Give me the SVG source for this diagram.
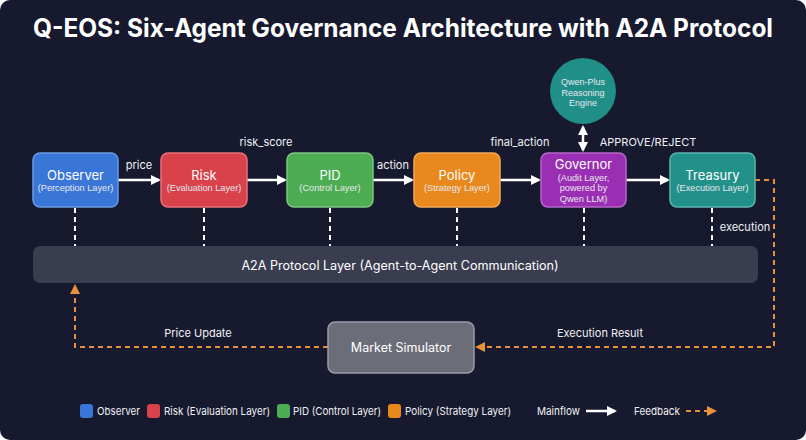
<svg xmlns="http://www.w3.org/2000/svg" width="806" height="440" viewBox="0 0 806 440">
<defs>
<style>
text{font-family:"Inter","Liberation Sans",Arial,sans-serif;fill:#ffffff}
.t{font-size:13px;text-anchor:middle}
.s{font-family:"Liberation Sans",Arial,sans-serif;font-size:9.2px;text-anchor:middle;fill:#e8e8ee}
.lbl{font-size:11px;text-anchor:middle;fill:#f0f0f4}
.leg{font-size:11px;fill:#f0f0f4}
.node{stroke-width:1.5}
.main{stroke:#ffffff;stroke-width:2.5;fill:none}
.dash{stroke:#ffffff;stroke-width:2;stroke-dasharray:5 4;fill:none}
.fb{stroke:#e8913a;stroke-width:2;stroke-dasharray:5 4;fill:none}
</style>
<marker id="aw" markerWidth="10" markerHeight="10" refX="8" refY="5" orient="auto" markerUnits="userSpaceOnUse">
<path d="M0,0 L10,5 L0,10 Z" fill="#ffffff"/>
</marker>
<marker id="aw2" markerWidth="10" markerHeight="10" refX="8" refY="5" orient="auto-start-reverse" markerUnits="userSpaceOnUse">
<path d="M0,0 L10,5 L0,10 Z" fill="#ffffff"/>
</marker>
<marker id="ao" markerWidth="10" markerHeight="10" refX="8" refY="5" orient="auto" markerUnits="userSpaceOnUse">
<path d="M0,0 L10,5 L0,10 Z" fill="#e8913a"/>
</marker>
</defs>
<rect x="0" y="0" width="806" height="440" fill="#ffffff"/>
<rect x="0" y="0" width="806" height="440" rx="10" fill="#171a2e"/>
<text x="403" y="37" text-anchor="middle" font-size="25" font-weight="bold" textLength="740" lengthAdjust="spacingAndGlyphs">Q-EOS: Six-Agent Governance Architecture with A2A Protocol</text>

<g id="connectors">
<line class="main" x1="118" y1="180" x2="159" y2="180" marker-end="url(#aw)"/>
<line class="main" x1="247" y1="180" x2="285" y2="180" marker-end="url(#aw)"/>
<line class="main" x1="373" y1="180" x2="412" y2="180" marker-end="url(#aw)"/>
<line class="main" x1="500" y1="180" x2="539" y2="180" marker-end="url(#aw)"/>
<line class="main" x1="626" y1="180" x2="668" y2="180" marker-end="url(#aw)"/>
<line class="main" x1="583" y1="127" x2="583" y2="150" marker-start="url(#aw2)" marker-end="url(#aw)"/>
<line class="dash" x1="75" y1="208" x2="75" y2="246"/>
<line class="dash" x1="204" y1="208" x2="204" y2="246"/>
<line class="dash" x1="330" y1="208" x2="330" y2="246"/>
<line class="dash" x1="457" y1="208" x2="457" y2="246"/>
<line class="dash" x1="584" y1="208" x2="584" y2="246"/>
<line class="dash" x1="712" y1="208" x2="712" y2="246"/>
<polyline class="fb" points="755,180 774,180 774,347 477,347" marker-end="url(#ao)"/>
<polyline class="fb" points="328,347 75,347 75,286" marker-end="url(#ao)"/>
<text class="lbl" x="139" y="169">price</text>
<text class="lbl" x="266" y="146">risk_score</text>
<text class="lbl" x="393" y="169">action</text>
<text class="lbl" x="520" y="146">final_action</text>
<text class="lbl" x="648" y="146">APPROVE/REJECT</text>
<text class="lbl" x="745" y="231">execution</text>
<text class="lbl" x="600" y="337">Execution Result</text>
<text class="lbl" x="198" y="337">Price Update</text>
</g>

<g id="protocol">
<rect x="33" y="246" width="725" height="37" rx="7" fill="#3a3d4f"/>
<text x="400" y="269.5" text-anchor="middle" font-size="12.6">A2A Protocol Layer (Agent-to-Agent Communication)</text>
</g>

<g id="observer">
<rect class="node" x="33" y="153" width="85" height="54" rx="7" fill="#3a76d8" stroke="#6a9ae6"/>
<text class="t" x="75.5" y="179.5">Observer</text>
<text class="s" x="75.5" y="191">(Perception Layer)</text>
</g>
<g id="risk">
<rect class="node" x="161" y="153" width="86" height="54" rx="7" fill="#d9424b" stroke="#e87279"/>
<text class="t" x="204" y="179.5">Risk</text>
<text class="s" x="204" y="191">(Evaluation Layer)</text>
</g>
<g id="pid">
<rect class="node" x="287" y="153" width="86" height="54" rx="7" fill="#4cad52" stroke="#7cc680"/>
<text class="t" x="330" y="179.5">PID</text>
<text class="s" x="330" y="191">(Control Layer)</text>
</g>
<g id="policy">
<rect class="node" x="414" y="153" width="86" height="54" rx="7" fill="#e9891d" stroke="#f2ab5b"/>
<text class="t" x="457" y="179.5">Policy</text>
<text class="s" x="457" y="191">(Strategy Layer)</text>
</g>
<g id="governor">
<rect class="node" x="541" y="153" width="85" height="54" rx="7" fill="#9a2fb4" stroke="#b866cc"/>
<text class="t" x="583.5" y="168.5">Governor</text>
<text class="s" x="583.5" y="180.5">(Audit Layer,</text>
<text class="s" x="583.5" y="191">powered by</text>
<text class="s" x="583.5" y="201.5">Qwen LLM)</text>
</g>
<g id="treasury">
<rect class="node" x="670" y="153" width="85" height="54" rx="7" fill="#22918a" stroke="#5cb5ae"/>
<text class="t" x="712.5" y="179.5">Treasury</text>
<text class="s" x="712.5" y="191">(Execution Layer)</text>
</g>
<g id="qwen">
<circle cx="583" cy="91" r="33" fill="#1f8f87"/>
<text class="s" style="font-size:9px" x="583" y="85">Qwen-Plus</text>
<text class="s" style="font-size:9px" x="583" y="95.5">Reasoning</text>
<text class="s" style="font-size:9px" x="583" y="106">Engine</text>
</g>
<g id="market">
<rect x="328" y="322" width="146" height="51" rx="7" fill="#6b6e79" stroke="#9a9ca6" stroke-width="1.5"/>
<text x="401" y="352" text-anchor="middle" font-size="12.5">Market Simulator</text>
</g>

<g id="legend">
<rect x="80" y="404" width="13" height="14" rx="3" fill="#3a76d8"/>
<text class="leg" x="97" y="415" textLength="43" lengthAdjust="spacingAndGlyphs">Observer</text>
<rect x="147" y="404" width="13" height="14" rx="3" fill="#d9424b"/>
<text class="leg" x="164" y="415" textLength="106" lengthAdjust="spacingAndGlyphs">Risk (Evaluation Layer)</text>
<rect x="277" y="404" width="13" height="14" rx="3" fill="#4cad52"/>
<text class="leg" x="293" y="415" textLength="88" lengthAdjust="spacingAndGlyphs">PID (Control Layer)</text>
<rect x="388" y="404" width="13" height="14" rx="3" fill="#e9891d"/>
<text class="leg" x="405" y="415" textLength="106" lengthAdjust="spacingAndGlyphs">Policy (Strategy Layer)</text>
<text class="leg" x="537" y="415" textLength="43" lengthAdjust="spacingAndGlyphs">Mainflow</text>
<line class="main" x1="586" y1="411" x2="615" y2="411" marker-end="url(#aw)"/>
<text class="leg" x="634" y="415" textLength="46" lengthAdjust="spacingAndGlyphs">Feedback</text>
<line class="fb" x1="686" y1="411" x2="715" y2="411" stroke-dasharray="4 3" marker-end="url(#ao)"/>
</g>
</svg>
